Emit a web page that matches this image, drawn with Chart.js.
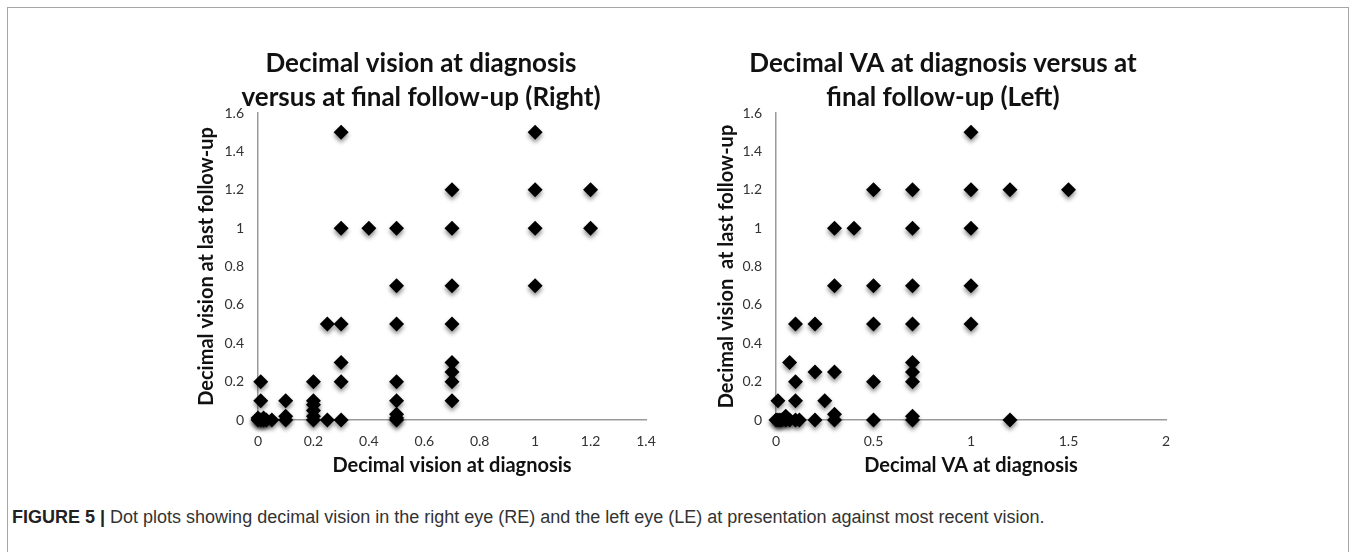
<!DOCTYPE html>
<html>
<head>
<meta charset="utf-8">
<script src="https://cdn.jsdelivr.net/npm/chart.js@4.4.1/dist/chart.umd.min.js"></script>
<style>
  html, body { margin: 0; padding: 0; background: #fff; }
  body { width: 1357px; height: 552px; position: relative; overflow: hidden; }
  .frame { position: absolute; left: 7px; top: 7px; width: 1342px; height: 600px; border: 1px solid #a6a6a6; box-sizing: border-box; }
  .box { position: absolute; top: 0; width: 530px; height: 490px; }
  #boxRight { left: 150px; }
  #boxLeft { left: 670px; }
  .caption { position: absolute; left: 12px; top: 507px; font-family: "Liberation Sans", Arial, sans-serif; font-size: 18px; color: #333; white-space: nowrap; }
  .caption b { color: #222; }
</style>
</head>
<body>
<div class="frame"></div>
<div class="box" id="boxRight"><canvas id="chartRight" width="530" height="490"></canvas></div>
<div class="box" id="boxLeft"><canvas id="chartLeft" width="530" height="490"></canvas></div>
<div class="caption"><b>FIGURE 5 |</b> Dot plots showing decimal vision in the right eye (RE) and the left eye (LE) at presentation against most recent vision.</div>
<script>
// Right eye: decimal vision at diagnosis (x) and at last follow-up (y)
const rightDiagnosis = [0, 0.01, 0.02, 0.03, 0.05, 0, 0.02, 0.01, 0.01,
  0.1, 0.1, 0.1,
  0.2, 0.2, 0.2, 0.2, 0.2, 0.2,
  0.25, 0.25,
  0.3, 0.3, 0.3, 0.3, 0.3, 0.3,
  0.4,
  0.5, 0.5, 0.5, 0.5, 0.5, 0.5, 0.5, 0.5,
  0.7, 0.7, 0.7, 0.7, 0.7, 0.7, 0.7, 0.7,
  1, 1, 1, 1,
  1.2, 1.2];
const rightFinal = [0, 0, 0, 0, 0, 0.01, 0.01, 0.2, 0.1,
  0.1, 0.02, 0,
  0.2, 0.1, 0.08, 0.05, 0.02, 0,
  0.5, 0,
  1.5, 1, 0.5, 0.3, 0.2, 0,
  1,
  1, 0.7, 0.5, 0.2, 0.1, 0.03, 0.01, 0,
  1.2, 1, 0.7, 0.5, 0.3, 0.25, 0.2, 0.1,
  1.5, 1.2, 1, 0.7,
  1.2, 1];

// Left eye
const leftDiagnosis = [0, 0.01, 0.02, 0.03, 0.05, 0.07, 0.1, 0.12, 0.05, 0.01,
  0.07,
  0.1, 0.1, 0.1,
  0.2, 0.2, 0.2,
  0.25,
  0.3, 0.3, 0.3, 0.3, 0.3,
  0.4,
  0.5, 0.5, 0.5, 0.5, 0.5,
  0.7, 0.7, 0.7, 0.7, 0.7, 0.7, 0.7, 0.7, 0.7,
  1, 1, 1, 1, 1,
  1.2, 1.2,
  1.5];
const leftFinal = [0, 0, 0, 0, 0, 0, 0, 0, 0.02, 0.1,
  0.3,
  0.5, 0.2, 0.1,
  0.5, 0.25, 0,
  0.1,
  1, 0.7, 0.25, 0.03, 0,
  1,
  1.2, 0.7, 0.5, 0.2, 0,
  1.2, 1, 0.7, 0.5, 0.3, 0.25, 0.2, 0.02, 0,
  1.5, 1.2, 1, 0.7, 0.5,
  1.2, 0,
  1.2];

const yTicks = [0, 0.2, 0.4, 0.6, 0.8, 1, 1.2, 1.4, 1.6];
const xTicksRight = [0, 0.2, 0.4, 0.6, 0.8, 1, 1.2, 1.4];
const xTicksLeft = [0, 0.5, 1, 1.5, 2];

const tickFont = { family: 'Lato, "Open Sans", sans-serif', size: 14 };
const axisTitleFont = { family: 'Lato, "Open Sans", sans-serif', size: 20, weight: 'bold', lineHeight: 1.2 };

// soft shadow under the diamonds, like the original spreadsheet export
const shadowPlugin = {
  id: 'markerShadow',
  beforeDatasetsDraw(chart) {
    const ctx = chart.ctx;
    ctx.save();
    ctx.shadowColor = 'rgba(0,0,0,0.45)';
    ctx.shadowBlur = 4;
    ctx.shadowOffsetY = 3;
  },
  afterDatasetsDraw(chart) {
    chart.ctx.restore();
  }
};

// two-line chart title drawn at fixed place
const headPlugin = {
  id: 'head',
  afterDraw(chart, args, opts) {
    const ctx = chart.ctx;
    ctx.save();
    ctx.font = 'bold 26px Lato, "Open Sans", sans-serif';
    ctx.fillStyle = '#111';
    ctx.textAlign = 'center';
    ctx.textBaseline = 'middle';
    opts.lines.forEach((line, i) => {
      ctx.fillText(line, opts.x, opts.y + i * 34);
    });
    ctx.restore();
  }
};

const fmt = v => String(+v.toFixed(2));

function makePoints(xs, ys) {
  return xs.map((x, i) => ({ x: x, y: ys[i] }));
}

function makeChart(id, xs, ys, xMax, xTicks, xTitle, yTitle, head, yWidth) {
  return new Chart(document.getElementById(id), {
    type: 'scatter',
    data: {
      datasets: [{
        data: makePoints(xs, ys),
        pointStyle: 'rectRot',
        pointRadius: 7.5,
        pointHoverRadius: 7.5,
        backgroundColor: '#000',
        borderColor: '#000',
        borderWidth: 0,
        clip: false
      }]
    },
    options: {
      responsive: false,
      animation: false,
      layout: { padding: { top: 113, right: 34, bottom: 0, left: 0 } },
      plugins: {
        legend: { display: false },
        tooltip: { enabled: false },
        head: head
      },
      scales: {
        x: {
          type: 'linear',
          min: 0,
          max: xMax,
          afterBuildTicks: s => { s.ticks = xTicks.map(v => ({ value: v })); },
          afterFit: s => { s.height = 70; },
          grid: { display: false, drawTicks: false },
          border: { color: '#9a9a9a', width: 1.5 },
          ticks: { font: tickFont, color: '#333', padding: 13, callback: fmt },
          title: { display: true, text: xTitle, font: axisTitleFont, color: '#111', padding: { top: 0, bottom: 12 } }
        },
        y: {
          type: 'linear',
          min: 0,
          max: 1.6,
          afterBuildTicks: s => { s.ticks = yTicks.map(v => ({ value: v })); },
          afterFit: s => { s.width = yWidth; },
          grid: { display: false, drawTicks: false },
          border: { color: '#9a9a9a', width: 1.5 },
          ticks: { font: tickFont, color: '#333', padding: 14, callback: fmt },
          title: { display: true, text: yTitle, font: axisTitleFont, color: '#111', padding: { top: 45, bottom: 0 } }
        }
      }
    },
    plugins: [shadowPlugin, headPlugin]
  });
}

makeChart('chartRight', rightDiagnosis, rightFinal, 1.4, xTicksRight,
  'Decimal vision at diagnosis', 'Decimal vision at last follow-up',
  { lines: ['Decimal vision at diagnosis', 'versus at final follow-up (Right)'], x: 271, y: 64 }, 108);

makeChart('chartLeft', leftDiagnosis, leftFinal, 2, xTicksLeft,
  'Decimal VA at diagnosis', 'Decimal vision  at last follow-up',
  { lines: ['Decimal VA at diagnosis versus at', 'final follow-up (Left)'], x: 273, y: 64 }, 106);
</script>
</body>
</html>
